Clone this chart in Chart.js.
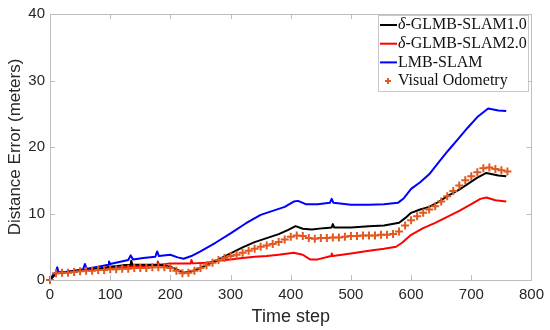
<!DOCTYPE html>
<html><head><meta charset="utf-8">
<script src="https://cdn.jsdelivr.net/npm/chart.js@4/dist/chart.umd.min.js"></script>
<style>html,body{margin:0;padding:0;background:#fff}#wrap{width:550px;height:330px}</style>
</head><body><div id="wrap"><canvas id="c" width="550" height="330"></canvas></div>
<script>
// ---- tick labels ----
const xTicks = [0, 100, 200, 300, 400, 500, 600, 700, 800];
const yTicks = [0, 10, 20, 30, 40];
const seriesLabels = ['δ-GLMB-SLAM1.0', 'δ-GLMB-SLAM2.0', 'LMB-SLAM', 'Visual Odometry'];

// ---- δ-GLMB-SLAM1.0 (black) ----
const glmb1T = [0,10,20,40,60,80,100,120,134,135,137,160,180,200,212,222,235,250,262,280,300,320,340,360,380,395,408,420,435,455,468,470,472,500,530,555,580,590,600,615,630,645,660,680,695,710,725,735,745,758];
const glmb1V = [0,1.0,1.1,1.3,1.5,1.7,2.0,2.2,2.3,2.9,2.3,2.3,2.3,2.0,1.5,1.1,1.3,1.8,2.3,3.1,4.0,4.9,5.7,6.3,6.9,7.5,8.1,7.7,7.6,7.8,7.9,8.4,7.9,7.9,8.1,8.2,8.6,9.3,10.1,10.6,11.0,11.7,12.6,13.6,14.5,15.4,16.1,15.9,15.7,15.6];

// ---- δ-GLMB-SLAM2.0 (red) ----
const glmb2T = [0,10,20,40,60,80,100,120,134,135,137,160,178,179,181,200,220,234,235,237,260,280,300,320,340,360,380,405,420,432,445,467,468,470,500,530,555,575,585,600,620,640,660,680,700,715,725,740,758];
const glmb2V = [0,1.0,1.1,1.3,1.5,1.6,1.8,1.9,2.0,2.6,2.0,2.1,2.2,2.8,2.3,2.5,2.5,2.5,3.0,2.5,2.6,2.9,3.1,3.3,3.5,3.6,3.8,4.1,3.8,3.1,3.1,3.6,4.0,3.6,4.0,4.4,4.7,5.0,5.6,6.8,7.8,8.6,9.5,10.4,11.4,12.2,12.4,12.0,11.8];

// ---- LMB-SLAM (blue) ----
const lmbT = [0,5,10,12,14,25,40,55,58,61,80,97,98,100,115,130,134,138,155,175,178,181,200,212,222,235,250,275,300,325,350,370,390,405,412,425,445,465,468,471,500,530,555,578,588,600,615,630,645,661,680,694,710,728,745,758];
const lmbV = [0,0.8,1.2,1.9,1.2,1.2,1.4,1.6,2.4,1.7,2.0,2.3,2.8,2.4,2.7,3.0,3.7,3.1,3.3,3.5,4.3,3.6,3.8,3.4,3.2,3.6,4.3,5.6,7.0,8.5,9.8,10.4,11.0,11.8,11.9,11.4,11.4,11.6,12.2,11.6,11.3,11.3,11.4,11.6,12.3,13.7,14.7,15.9,17.6,19.4,21.4,22.9,24.5,25.8,25.5,25.4];

// ---- Visual Odometry (markers) ----
const voT = [0,10,20,30,40,50,60,70,80,90,100,110,120,130,140,150,160,170,180,190,200,210,220,230,240,250,260,270,280,290,300,310,320,330,340,350,360,370,380,390,400,410,420,430,440,450,460,470,480,490,500,510,520,530,540,550,560,570,580,590,600,610,620,630,640,650,660,670,680,690,700,710,720,730,740,750,760];
const voV = [0,1.0,1.1,1.1,1.2,1.3,1.4,1.4,1.5,1.5,1.6,1.6,1.7,1.7,1.8,1.8,1.8,1.9,1.9,1.9,1.8,1.4,1.0,1.1,1.4,1.8,2.2,2.6,3.0,3.3,3.6,3.8,4.1,4.4,4.7,5.0,5.2,5.4,5.7,6.1,6.5,6.7,6.6,6.3,6.2,6.3,6.3,6.4,6.4,6.5,6.6,6.6,6.7,6.7,6.7,6.8,6.8,6.9,7.3,8.2,9.0,9.6,10.1,10.6,11.1,11.8,12.6,13.4,14.2,15.0,15.6,16.2,16.8,16.9,16.7,16.5,16.3];

const pts = (t, v) => t.map((x, i) => ({x: x, y: v[i]}));
const VO_COLOR = '#E2581F';
const AXIS_COLOR = '#bdbdbd';

const boxPlugin = {
  id: 'boxPlugin',
  afterDraw(chart) {
    const ctx = chart.ctx, a = chart.chartArea;
    const xs = chart.scales.x, ys = chart.scales.y;
    ctx.save();
    ctx.strokeStyle = AXIS_COLOR; ctx.lineWidth = 1;
    ctx.beginPath();
    ctx.rect(Math.round(a.left) + 0.5, Math.round(a.top) + 0.5, Math.round(a.right - a.left), Math.round(a.bottom - a.top));
    xTicks.forEach(v => {
      const p = Math.round(xs.getPixelForValue(v)) + 0.5;
      ctx.moveTo(p, a.bottom); ctx.lineTo(p, a.bottom - 5);
      ctx.moveTo(p, a.top); ctx.lineTo(p, a.top + 5);
    });
    yTicks.forEach(v => {
      const p = Math.round(ys.getPixelForValue(v)) + 0.5;
      ctx.moveTo(a.left, p); ctx.lineTo(a.left + 5, p);
      ctx.moveTo(a.right, p); ctx.lineTo(a.right - 5, p);
    });
    ctx.stroke();

    // legend box
    const L = 378, T = 15, W = 150, H = 76;
    ctx.fillStyle = '#fff'; ctx.fillRect(L, T, W, H);
    ctx.strokeStyle = '#c8c8c8'; ctx.strokeRect(L + 0.5, T + 0.5, W, H);
    const ds = chart.data.datasets;
    seriesLabels.forEach((lab, i) => {
      const d = ds.find(s => s.label === lab);
      const y = T + 10 + i * 18.7;
      ctx.lineWidth = 2;
      if (d.showLine === false) {
        ctx.strokeStyle = d.borderColor;
        ctx.beginPath();
        ctx.moveTo(388 - 3, y); ctx.lineTo(388 + 3, y);
        ctx.moveTo(388, y - 3); ctx.lineTo(388, y + 3);
        ctx.stroke();
      } else {
        ctx.strokeStyle = d.borderColor;
        ctx.beginPath(); ctx.moveTo(L + 2, y); ctx.lineTo(L + 19, y); ctx.stroke();
      }
      ctx.fillStyle = '#111'; ctx.textBaseline = 'middle'; ctx.textAlign = 'left';
      let x = L + 20;
      let rest = lab;
      if (lab.startsWith('δ')) {
        ctx.font = 'italic 16px "Liberation Serif"';
        ctx.fillText('δ', x, y);
        x += ctx.measureText('δ').width;
        rest = lab.slice(1);
      }
      ctx.font = '16px "Liberation Serif"';
      ctx.fillText(rest, x, y);
    });
    ctx.restore();
  }
};

new Chart(document.getElementById('c'), {
  type: 'scatter',
  data: {
    datasets: [
      { label: seriesLabels[3], data: pts(voT, voV), showLine: false, pointStyle: 'cross', pointRadius: 4, pointBorderWidth: 2, borderColor: VO_COLOR, backgroundColor: VO_COLOR, order: 0, clip: false },
      { label: seriesLabels[0], data: pts(glmb1T, glmb1V), showLine: true, borderColor: '#000000', borderWidth: 2, borderJoinStyle: 'round', pointRadius: 0, order: 1 },
      { label: seriesLabels[1], data: pts(glmb2T, glmb2V), showLine: true, borderColor: '#ff0000', borderWidth: 2, borderJoinStyle: 'round', pointRadius: 0, order: 2 },
      { label: seriesLabels[2], data: pts(lmbT, lmbV), showLine: true, borderColor: '#0000ff', borderWidth: 2, borderJoinStyle: 'round', pointRadius: 0, order: 3 }
    ]
  },
  options: {
    responsive: false, animation: false, devicePixelRatio: 1,
    layout: { padding: { left: 0, right: 17, top: 12, bottom: 0 } },
    plugins: { legend: { display: false }, tooltip: { enabled: false } },
    scales: {
      x: {
        type: 'linear', min: 0, max: 800,
        afterFit: s => { s.height = 50; },
        afterBuildTicks: s => { s.ticks = xTicks.map(v => ({value: v})); },
        grid: { display: false, drawTicks: false },
        border: { display: false },
        ticks: { padding: 6, color: '#262626', font: { family: '"Liberation Sans"', size: 15 }, maxRotation: 0 },
        title: { display: true, text: 'Time step', color: '#262626', font: { family: '"Liberation Sans"', size: 18 }, padding: { top: 0, bottom: 2 } }
      },
      y: {
        type: 'linear', min: 0, max: 40,
        afterFit: s => { s.width = 50; },
        afterBuildTicks: s => { s.ticks = yTicks.map(v => ({value: v})); },
        grid: { display: false, drawTicks: false },
        border: { display: false },
        ticks: { padding: 5, color: '#262626', font: { family: '"Liberation Sans"', size: 15 } },
        title: { display: true, text: 'Distance Error (meters)', color: '#262626', font: { family: '"Liberation Sans"', size: 17 }, padding: { top: 5, bottom: 0 } }
      }
    }
  },
  plugins: [boxPlugin]
});
</script>
</body></html>
